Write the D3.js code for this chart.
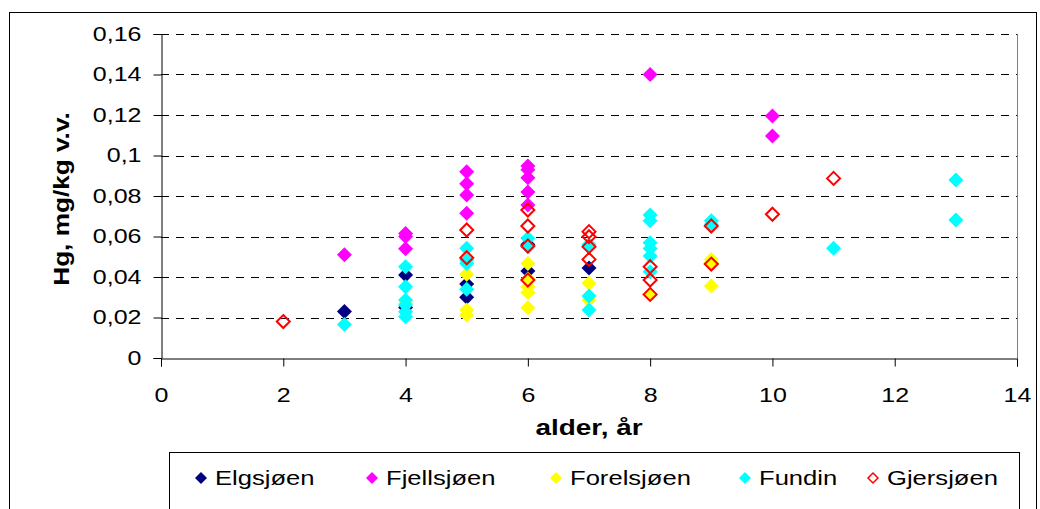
<!DOCTYPE html>
<html>
<head>
<meta charset="utf-8">
<style>
	body { margin: 0; background: #fff; }
	text { font-family: Arial, "Liberation Sans", sans-serif; }
</style>
</head>
<body>
<div id="chart"></div>
<script src="https://d3js.org/d3.v7.min.js"></script>
<script>
// series names and colours, drawn in this order
var seriesNames = ["Elgsjøen", "Fjellsjøen", "Forelsjøen", "Fundin", "Gjersjøen"];
var seriesColors = ["#000080", "#ff00ff", "#ffff00", "#00ffff", "#ff0000"];

// [alder, Hg] per lake
var elgsjoen = [[3,0.023],[4,0.041],[4,0.025],[5,0.0365],[5,0.030],[6,0.056],[6,0.043],[7,0.0445],[9,0.0465]];
var fjellsjoen = [[3,0.051],[4,0.0615],[4,0.060],[4,0.054],[5,0.092],[5,0.086],[5,0.0805],[5,0.0715],
	[6,0.0948],[6,0.093],[6,0.089],[6,0.082],[6,0.0756],[8,0.140],[10,0.1195],[10,0.1096]];
var forelsjoen = [[4,0.027],[5,0.0413],[5,0.0237],[5,0.0212],[6,0.0467],[6,0.039],[6,0.0352],[6,0.0323],[6,0.0248],
	[7,0.0369],[7,0.0286],[8,0.0314],[9,0.0487],[9,0.047],[9,0.0356]];
var fundin = [[3,0.0165],[4,0.0451],[4,0.0352],[4,0.0286],[4,0.0262],[4,0.0229],[4,0.0204],
	[5,0.0542],[5,0.0484],[5,0.0467],[5,0.0339],[6,0.0591],[6,0.055],[7,0.056],[7,0.0306],[7,0.0237],
	[8,0.0706],[8,0.0678],[8,0.0569],[8,0.0541],[8,0.0504],[8,0.0426],[9,0.0678],[9,0.066],[11,0.0542],[13,0.0879],[13,0.0681]];
var gjersjoen = [[2,0.018],[5,0.0632],[5,0.0495],[6,0.0731],[6,0.0652],[6,0.0553],[6,0.0385],
	[7,0.0624],[7,0.0599],[7,0.055],[7,0.0487],[8,0.0451],[8,0.0385],[8,0.0314],[9,0.0652],[9,0.0464],[10,0.071],[11,0.0887]];
var seriesData = [elgsjoen, fjellsjoen, forelsjoen, fundin, gjersjoen];

var xTicks = [0, 2, 4, 6, 8, 10, 12, 14];
var yTicks = [0, 0.02, 0.04, 0.06, 0.08, 0.1, 0.12, 0.14, 0.16];

var W = 1040, H = 509;
var plot = {left: 161, top: 34, right: 1017, bottom: 358};
var sx = 1.25; // text in the original is drawn a bit wide

var svg = d3.select("#chart").append("svg")
	.attr("width", W)
	.attr("height", H);

// outer chart border
svg.append("rect")
	.attr("x", 9.5).attr("y", 12.5)
	.attr("width", 1027).attr("height", 520)
	.attr("fill", "#fff")
	.attr("stroke", "#000")
	.attr("stroke-width", 1);

var x = d3.scaleLinear().domain([0, 14]).range([plot.left, plot.right]);
var y = d3.scaleLinear().domain([0, 0.16]).range([plot.bottom, plot.top]);

function fmt(d) { return String(+d.toFixed(2)).replace(".", ","); }

// gridlines
svg.append("g")
	.selectAll("line")
	.data(yTicks.filter(function(d){ return d > 0; }))
	.enter().append("line")
	.attr("x1", plot.left).attr("x2", plot.right)
	.attr("y1", function(d){ return Math.round(y(d)) + 0.5; })
	.attr("y2", function(d){ return Math.round(y(d)) + 0.5; })
	.attr("stroke", "#000")
	.attr("stroke-dasharray", "8,7");

// plot area right border
svg.append("line")
	.attr("x1", plot.right + 0.5).attr("x2", plot.right + 0.5)
	.attr("y1", plot.top).attr("y2", plot.bottom)
	.attr("stroke", "#808080");

// axes
var yAxis = d3.axisLeft(y).tickValues(yTicks).tickFormat(fmt).tickSize(8).tickPadding(12);
var xAxis = d3.axisBottom(x).tickValues(xTicks).tickFormat(fmt).tickSize(8).tickPadding(10);

svg.append("g")
	.attr("transform", "translate(" + (plot.left + 0.5) + ",0)")
	.call(yAxis)
	.call(function(g){
		g.select(".domain").attr("stroke", "#000");
		g.selectAll("text").attr("font-size", 20).attr("fill", "#000")
			.attr("font-family", "Arial, 'Liberation Sans', sans-serif")
			.attr("x", -20 / sx)
			.attr("transform", "scale(" + sx + ",1)");
	});

svg.append("g")
	.attr("transform", "translate(0," + (plot.bottom + 0.5) + ")")
	.call(xAxis)
	.call(function(g){
		g.select(".domain").attr("stroke", "#000");
		g.selectAll("text").attr("font-size", 20).attr("fill", "#000")
			.attr("font-family", "Arial, 'Liberation Sans', sans-serif")
			.attr("y", 44).attr("dy", null)
			.attr("transform", "scale(" + sx + ",1)");
	});

// axis titles
svg.append("text")
	.attr("transform", "translate(" + ((plot.left + plot.right) / 2) + ",435) scale(1.27,1)")
	.attr("text-anchor", "middle")
	.attr("font-size", 22)
	.attr("font-weight", "bold")
	.text("alder, år");

svg.append("text")
	.attr("transform", "translate(69,199) rotate(-90) scale(1.19,1)")
	.attr("text-anchor", "middle")
	.attr("font-size", 22)
	.attr("font-weight", "bold")
	.text("Hg, mg/kg v.v.");

// markers
function diamond(cx, cy, r) {
	return "M" + cx + "," + (cy - r) + "L" + (cx + r) + "," + cy + "L" + cx + "," + (cy + r) + "L" + (cx - r) + "," + cy + "Z";
}

seriesData.forEach(function(data, i){
	var open = (i === 4);
	svg.append("g")
		.selectAll("path")
		.data(data)
		.enter().append("path")
		.attr("d", function(d){ return diamond(x(d[0]), y(d[1]), open ? 6.5 : 7.5); })
		.attr("fill", open ? "none" : seriesColors[i])
		.attr("stroke", open ? seriesColors[i] : "none")
		.attr("stroke-width", 2);
});

// legend
var legend = svg.append("g");
legend.append("rect")
	.attr("x", 169.5).attr("y", 452.5)
	.attr("width", 850).attr("height", 80)
	.attr("fill", "#fff")
	.attr("stroke", "#000");

var legendX = [201, 372, 556, 745, 873];
var item = legend.selectAll(".item")
	.data(seriesNames)
	.enter().append("g")
	.attr("class", "item")
	.attr("transform", function(d, i){ return "translate(" + legendX[i] + ",478)"; });

item.append("path")
	.attr("d", function(d, i){ return i === 4 ? diamond(0, 0, 5) : diamond(0, 0, 6); })
	.attr("fill", function(d, i){ return i === 4 ? "#fff" : seriesColors[i]; })
	.attr("stroke", function(d, i){ return i === 4 ? seriesColors[i] : "none"; })
	.attr("stroke-width", 1.5);

item.append("text")
	.attr("transform", "translate(14,0) scale(1.28,1)")
	.attr("dy", "0.35em")
	.attr("font-size", 20)
	.text(function(d){ return d; });
</script>
</body>
</html>
